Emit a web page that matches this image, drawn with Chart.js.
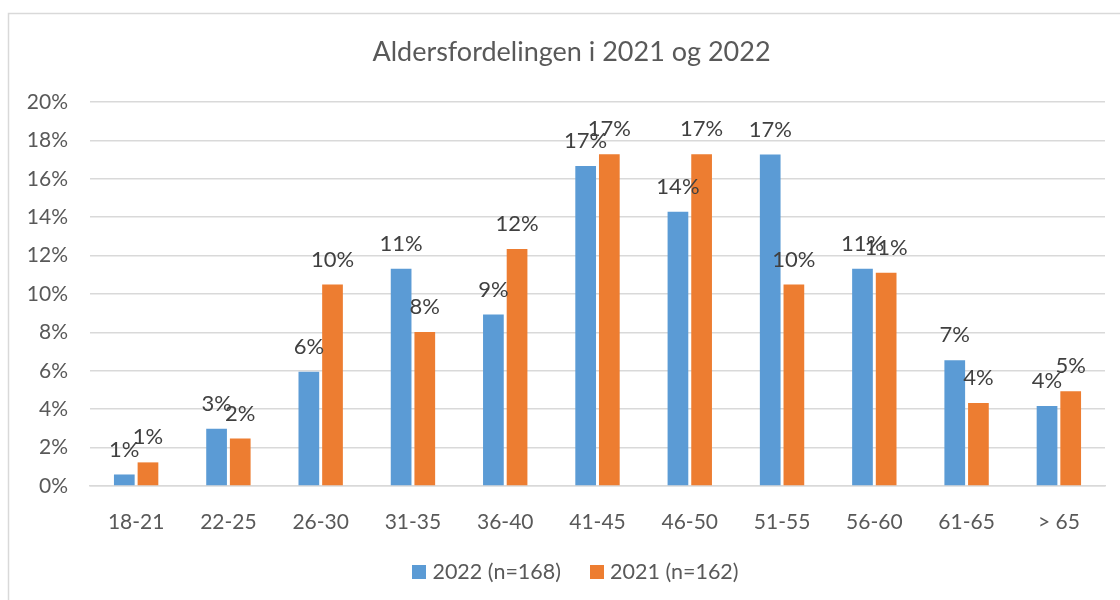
<!DOCTYPE html>
<html>
<head>
<meta charset="utf-8">
<script src="https://cdn.jsdelivr.net/npm/chart.js@4.4.1/dist/chart.umd.min.js"></script>
<style>
  html, body { margin: 0; padding: 0; background: #ffffff; }
  #wrap { position: relative; width: 1120px; height: 600px; }
</style>
</head>
<body>
<div id="wrap"><canvas id="c" width="1120" height="600"></canvas></div>
<script>
const categories = ['18-21', '22-25', '26-30', '31-35', '36-40', '41-45', '46-50', '51-55', '56-60', '61-65', '> 65'];
const values2022 = [0.60, 2.98, 5.95, 11.31, 8.93, 16.67, 14.29, 17.26, 11.31, 6.55, 4.17];
const values2021 = [1.23, 2.47, 10.49, 8.02, 12.35, 17.28, 17.28, 10.49, 11.11, 4.32, 4.94];
const seriesLabels = ['2022 (n=168)', '2021 (n=162)'];
const seriesColors = ['#5B9BD5', '#ED7D31'];
const yTicks = [0, 2, 4, 6, 8, 10, 12, 14, 16, 18, 20];
const titleText = 'Aldersfordelingen i 2021 og 2022';

const FONT = 'Lato, "Open Sans", sans-serif';

const frame = {
  id: 'frame',
  beforeDraw(chart) {
    const ctx = chart.ctx;
    ctx.save();
    ctx.fillStyle = '#ffffff';
    ctx.fillRect(0, 0, chart.width, chart.height);
    ctx.strokeStyle = '#d9d9d9';
    ctx.lineWidth = 1.5;
    ctx.strokeRect(8.5, 13.5, 1300, 800);
    // title
    ctx.fillStyle = '#595959';
    ctx.font = '27px ' + FONT;
    ctx.textAlign = 'center';
    ctx.textBaseline = 'middle';
    ctx.fillText(titleText, 571.5, 52);
    ctx.restore();
  }
};

const legendPlugin = {
  id: 'customLegend',
  afterDraw(chart) {
    const ctx = chart.ctx;
    ctx.save();
    ctx.font = '21.5px ' + FONT;
    ctx.textBaseline = 'middle';
    ctx.textAlign = 'left';
    const box = 14, gapText = 6, gapItem = 29, cy = 572, cx = 575.5;
    const widths = chart.data.datasets.map(ds => box + gapText + ctx.measureText(ds.label).width);
    const total = widths.reduce((a, b) => a + b, 0) + gapItem * (widths.length - 1);
    let x = cx - total / 2;
    chart.data.datasets.forEach((ds, i) => {
      ctx.fillStyle = ds.backgroundColor;
      ctx.fillRect(Math.round(x), cy - box / 2, box, box);
      ctx.fillStyle = '#595959';
      ctx.fillText(ds.label, x + box + gapText, cy);
      x += widths[i] + gapItem;
    });
    ctx.restore();
  }
};

const dataLabels = {
  id: 'dataLabels',
  afterDatasetsDraw(chart) {
    const ctx = chart.ctx;
    ctx.save();
    ctx.font = '22px ' + FONT;
    ctx.fillStyle = '#404040';
    ctx.textAlign = 'center';
    ctx.textBaseline = 'middle';
    chart.data.datasets.forEach((ds, i) => {
      const meta = chart.getDatasetMeta(i);
      meta.data.forEach((bar, j) => {
        ctx.fillText(Math.round(ds.data[j]) + '%', bar.x, bar.y - 25);
      });
    });
    ctx.restore();
  }
};

new Chart(document.getElementById('c'), {
  type: 'bar',
  data: {
    labels: categories,
    datasets: [
      { label: seriesLabels[0], data: values2022, backgroundColor: seriesColors[0], borderWidth: 0 },
      { label: seriesLabels[1], data: values2021, backgroundColor: seriesColors[1], borderWidth: 0 }
    ]
  },
  options: {
    responsive: false,
    animation: false,
    devicePixelRatio: 1,
    layout: { padding: { left: 0, right: 15, top: 102, bottom: 50 } },
    datasets: { bar: { categoryPercentage: 0.513, barPercentage: 0.875 } },
    plugins: {
      title: { display: false },
      legend: { display: false },
      tooltip: { enabled: false }
    },
    scales: {
      x: {
        grid: { display: false, drawTicks: false },
        border: { display: true, color: '#d9d9d9', width: 1.5 },
        ticks: { color: '#595959', font: { family: FONT, size: 21 }, padding: 24, maxRotation: 0 },
        afterFit(scale) { scale.height = 64; }
      },
      y: {
        min: 0,
        max: 20,
        afterBuildTicks(scale) { scale.ticks = yTicks.map(v => ({ value: v })); },
        grid: { color: '#d9d9d9', lineWidth: 1.5, drawTicks: false },
        border: { display: false },
        ticks: {
          color: '#595959',
          font: { family: FONT, size: 21 },
          padding: 22,
          callback: v => v + '%'
        },
        afterFit(scale) { scale.width = 90; }
      }
    }
  },
  plugins: [frame, dataLabels, legendPlugin]
});
</script>
</body>
</html>
